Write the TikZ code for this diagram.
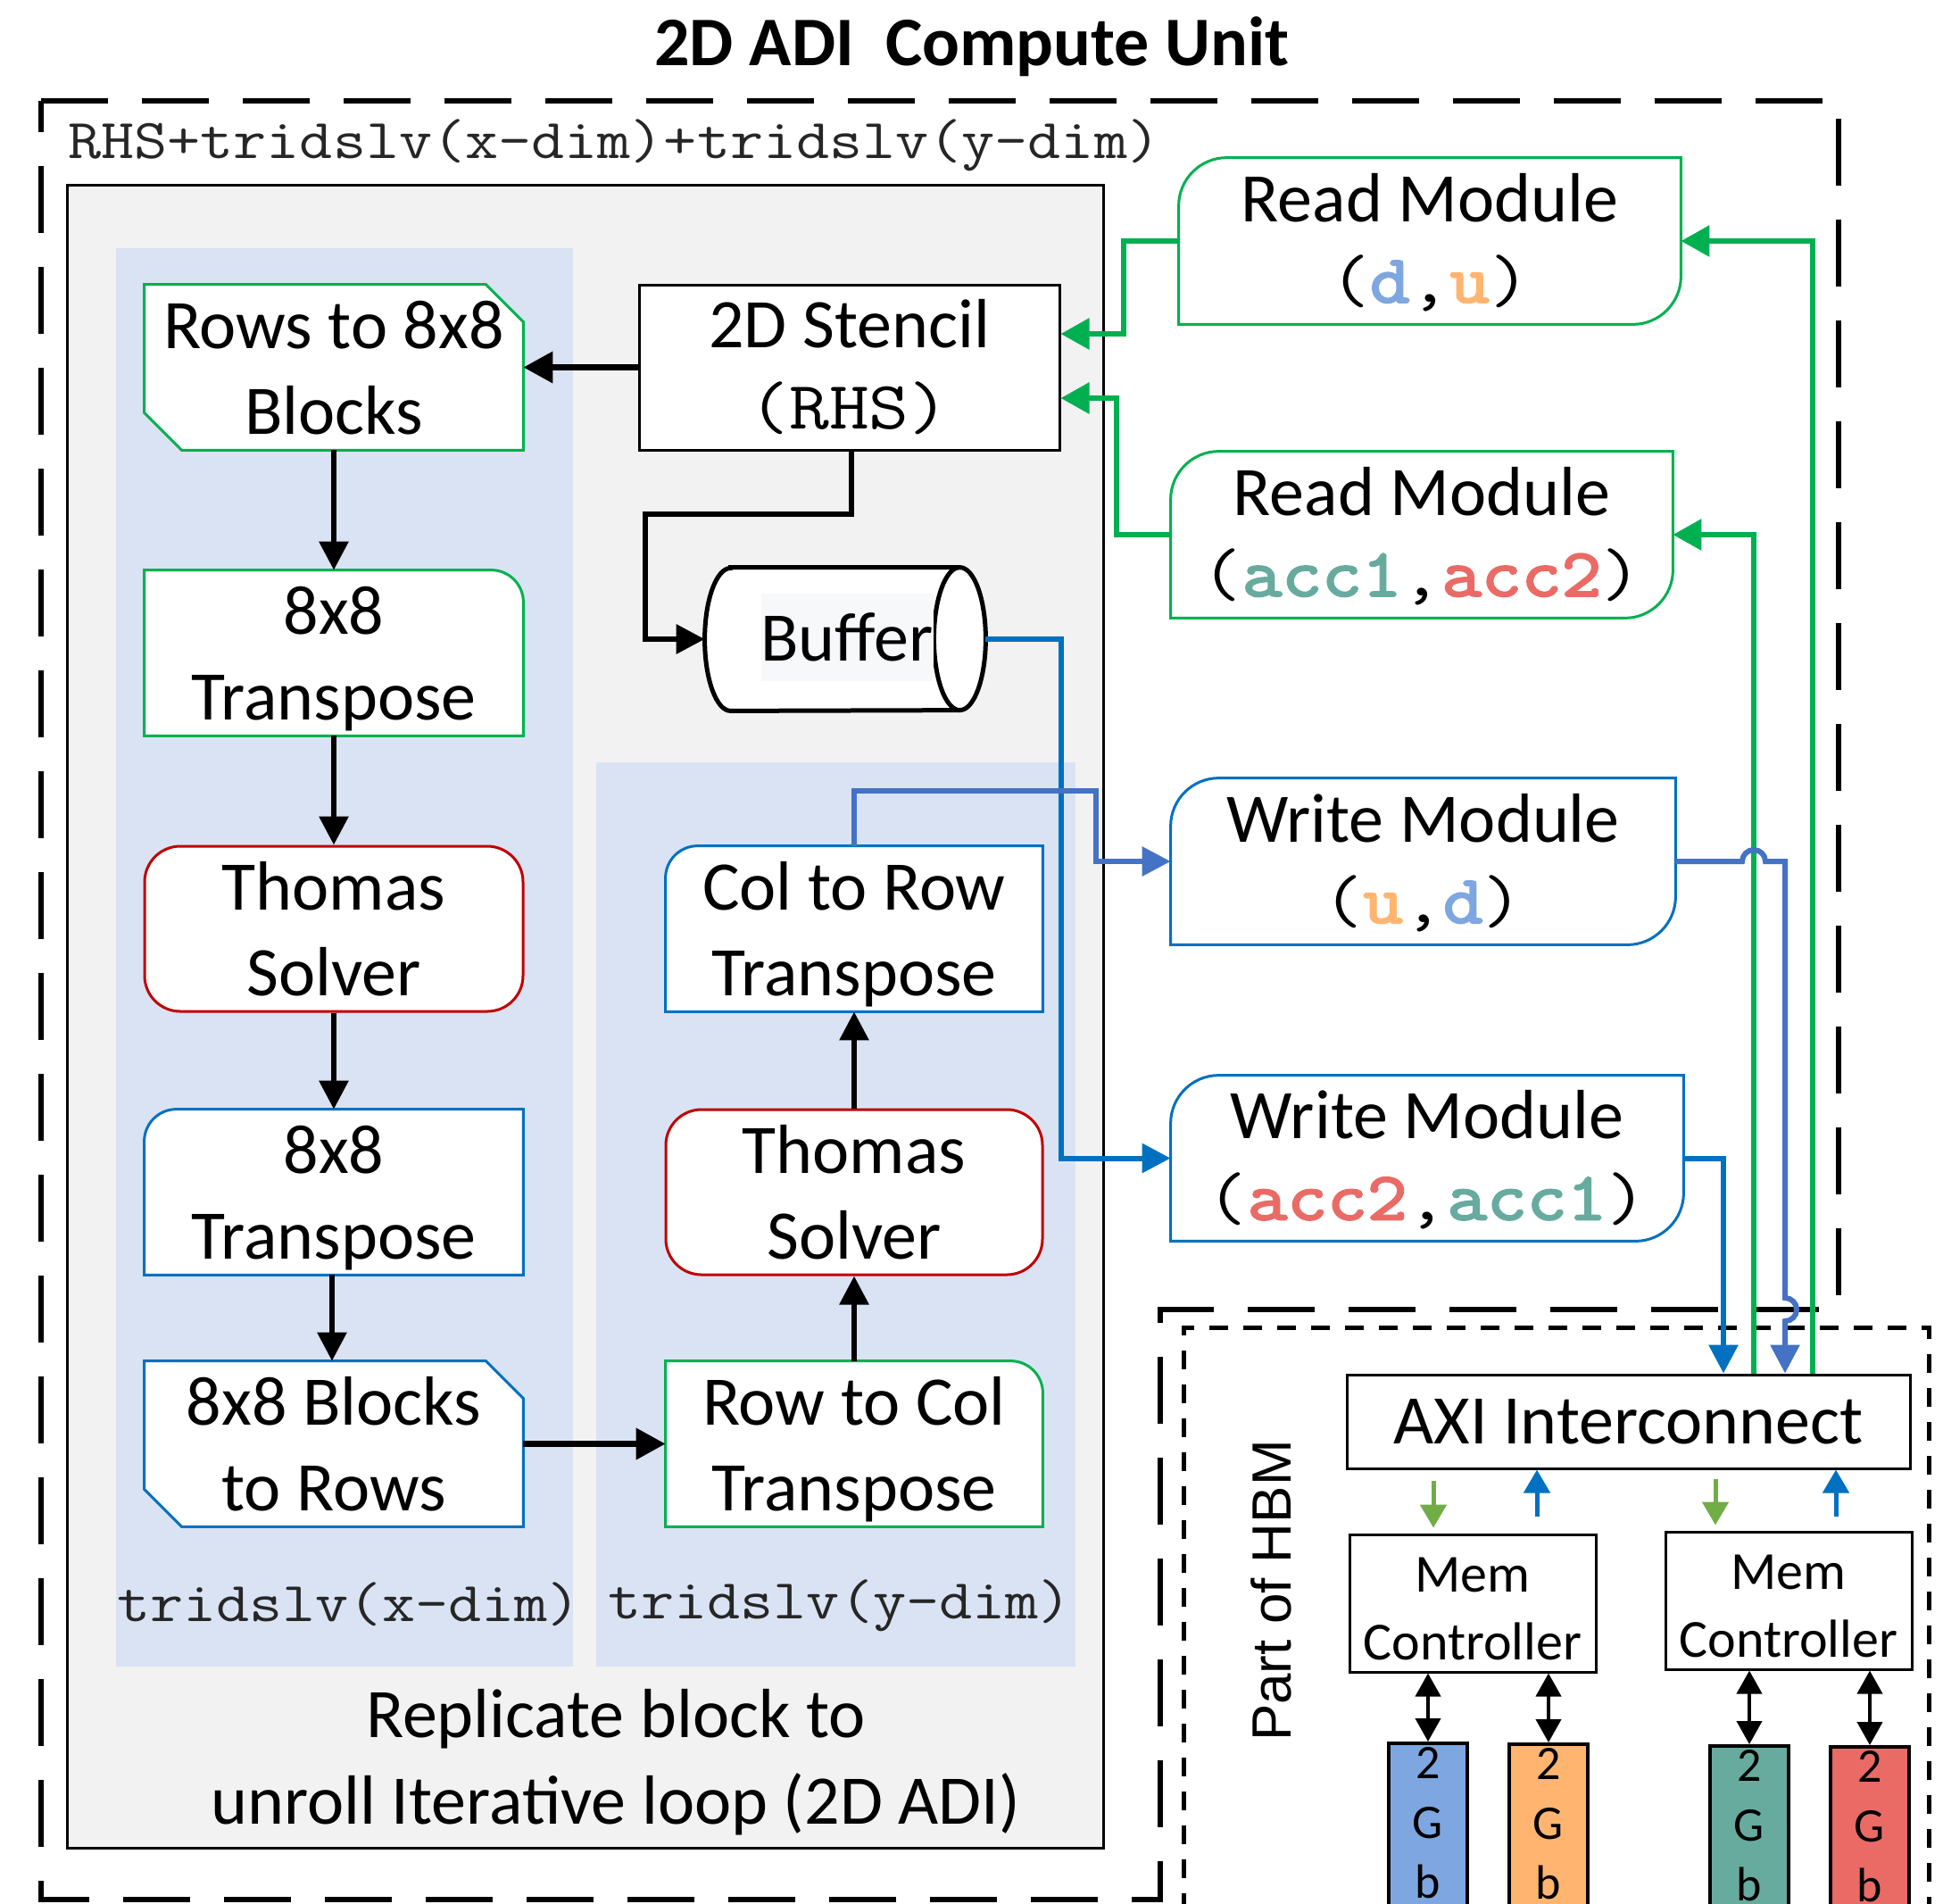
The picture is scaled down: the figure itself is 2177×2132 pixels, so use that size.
\documentclass[tikz,border=0pt]{standalone}
\usepackage{fontspec}
\setmainfont{Carlito}
\newfontfamily\cour{Latin Modern Mono}[FakeStretch=1.143,BoldFont={Latin Modern Mono},BoldFeatures={FakeBold=3}]
\newfontfamily\hbmfont{Liberation Sans}
\usetikzlibrary{arrows.meta,calc}

\definecolor{grn}{HTML}{00B050}
\definecolor{blu}{HTML}{0070C0}
\definecolor{bluB}{HTML}{4472C4}
\definecolor{rd}{HTML}{C00000}
\definecolor{panel}{HTML}{F2F2F2}
\definecolor{lane}{HTML}{DAE3F3}
\definecolor{lgrn}{HTML}{70AD47}
\definecolor{cd}{HTML}{7EA6E0}
\definecolor{cu}{HTML}{FFB570}
\definecolor{ca}{HTML}{67AB9F}
\definecolor{cb}{HTML}{EA6B66}
\definecolor{labelgray}{HTML}{262626}
\definecolor{bufbg}{HTML}{F7F8FA}

\pgfdeclarelayer{back}
\pgfdeclarelayer{shapes}
\pgfsetlayers{back,shapes,main}

% struts that fix the baselines of the box texts
\newcommand\bstrut{\rule[-9pt]{0pt}{44.5pt}}
\newcommand\mstrut{\rule[-9pt]{0pt}{41.5pt}}
\newcommand\cstrut{\rule[-6pt]{0pt}{37pt}}
\newcommand\gstrut{\rule[-4pt]{0pt}{24.5pt}}
\newcommand\mtxt[1]{{\cour\fontsize{38pt}{45.25pt}\selectfont #1}}
\newcommand\vname[2]{\textbf{\textcolor{#1}{#2}}}

% outlines of the special box shapes
\newcommand\snipout[2]{%
  \filldraw[fill=white,draw=#2,line width=1.5pt]
    (#1.north west) -- ([xshift=-21pt]#1.north east) -- ([yshift=-21pt]#1.north east)
    -- (#1.south east) -- ([xshift=21pt]#1.south west) -- ([yshift=21pt]#1.south west) -- cycle;}
\newcommand\trout[3]{%
  \filldraw[fill=white,draw=#2,line width=1.5pt]
    (#1.south west) -- (#1.north west) -- ([xshift=-#3]#1.north east)
    arc[start angle=90,end angle=0,radius=#3] -- (#1.south east) -- cycle;}
\newcommand\tlout[3]{%
  \filldraw[fill=white,draw=#2,line width=1.5pt]
    (#1.south east) -- (#1.south west) -- ([yshift=-#3]#1.north west)
    arc[start angle=180,end angle=90,radius=#3] -- (#1.north east) -- cycle;}
\newcommand\modout[2]{%
  \filldraw[fill=white,draw=#2,line width=1.5pt]
    ([yshift=-27pt]#1.north west) arc[start angle=180,end angle=90,radius=27pt]
    -- (#1.north east) -- ([yshift=27pt]#1.south east)
    arc[start angle=0,end angle=-90,radius=27pt] -- (#1.south west) -- cycle;}

\begin{document}
\begin{tikzpicture}[x=0.5pt,y=-0.5pt,
  box/.style={minimum width=212pt,minimum height=92.5pt,inner sep=0pt,align=center,
    font=\fontsize{39pt}{48pt}\selectfont},
  modbox/.style={minimum height=93pt,inner sep=0pt,align=center,
    font=\fontsize{39pt}{45.25pt}\selectfont},
  plainbox/.style={draw,line width=1.5pt,fill=white,inner sep=0pt},
  solver/.style={box,draw=rd,line width=1.5pt,fill=white,rounded corners=20pt},
  flow/.style={line width=3pt,-{Triangle[length=16pt,width=16pt]}},
  flowbold/.style={line width=3.5pt,-{Triangle[length=16.5pt,width=17pt]}},
  rdlink/.style={draw=grn,line width=3pt,-{Triangle[length=16pt,width=17pt]}},
  wrlink/.style={line width=3pt,-{Triangle[length=16pt,width=16pt]}},
  hbmlink/.style={line width=2.5pt,-{Triangle[length=13pt,width=14.5pt]}},
  memlink/.style={line width=2pt,{Triangle[length=13pt,width=14pt]}-{Triangle[length=13pt,width=14pt]}},
  mlabel/.style={font=\cour\fontsize{31.5pt}{36pt}\selectfont,text=labelgray,inner sep=0pt,anchor=base west},
  longdash/.style={line width=3pt,dash pattern=on 37.5pt off 19pt},
  shortdash/.style={line width=2.5pt,dash pattern=on 10.5pt off 8.5pt},
]
\useasboundingbox (0,0) rectangle (2177,2132);
\clip (0,0) rectangle (2177,2132);

% title
\node[font=\bfseries\fontsize{39pt}{45pt}\selectfont,anchor=base,inner sep=0pt] (title) at (1089,73) {2D ADI\ \ Compute Unit};

% compute unit boundary, notched around the HBM
\draw[longdash] (46,113) -- (2060,113) -- (2060,1467) -- (1300,1467) -- (1300,2128) -- (46,2128) -- cycle;
\coordinate (notch) at (1300,1467);
\node[mlabel] (cuname) at (76,177) {RHS+tridslv(x-dim)+tridslv(y-dim)};

% replicated block and its two lanes
\begin{pgfonlayer}{back}
  \filldraw[fill=panel,line width=1.5pt] (75,207) rectangle (1236,2070);
  \fill[lane] (130,278) rectangle (642,1867);
  \fill[lane] (668,854) rectangle (1205,1867);
\end{pgfonlayer}

% x-dim lane
\node[box] (r2b) at (374,411.5) {\bstrut Rows to 8x8\\\bstrut Blocks};
\node[box] (tp1) at (374,731.5) {\bstrut 8x8\\\bstrut Transpose};
\node[solver] (ts1) at (374,1040.5) {\bstrut Thomas\\\bstrut Solver};
\node[box] (tp2) at (374,1335.5) {\bstrut 8x8\\\bstrut Transpose};
\node[box] (b2r) at (374,1617.5) {\bstrut 8x8 Blocks\\\bstrut to Rows};

% stencil, buffer and y-dim lane
\node[box,plainbox,minimum width=235.5pt,font=\fontsize{39pt}{45.25pt}\selectfont] (st) at (951.5,411.5) {\mstrut 2D Stencil\\\mstrut\mtxt{(RHS)}};
\node[minimum width=157pt,minimum height=80pt,inner sep=0pt] (buf) at (947,716) {};
\node[box,minimum width=211pt] (c2r) at (957,1040.5) {\bstrut Col to Row\\\bstrut Transpose};
\node[solver,minimum width=211pt] (ts2) at (957,1335.5) {\bstrut Thomas\\\bstrut Solver};
\node[box,minimum width=211pt] (r2c) at (957,1617.5) {\bstrut Row to Col\\\bstrut Transpose};

% memory modules
\node[modbox,minimum width=281pt] (rm1) at (1602,270) {\mstrut Read Module\\\mstrut\mtxt{(\vname{cd}{d},\vname{cu}{u})}};
\node[modbox,minimum width=281pt] (rm2) at (1593,599) {\mstrut Read Module\\\mstrut\mtxt{(\vname{ca}{acc1},\vname{cb}{acc2})}};
\node[modbox,minimum width=282.5pt] (wm1) at (1594.5,965) {\mstrut Write Module\\\mstrut\mtxt{(\vname{cu}{u},\vname{cd}{d})}};
\node[modbox,minimum width=287pt,minimum height=92.5pt] (wm2) at (1599,1297.5) {\mstrut Write Module\\\mstrut\mtxt{(\vname{cb}{acc2},\vname{ca}{acc1})}};

\begin{pgfonlayer}{shapes}
  \snipout{r2b}{grn}
  \trout{tp1}{grn}{18pt}
  \tlout{tp2}{blu}{18pt}
  \snipout{b2r}{blu}
  \tlout{c2r}{blu}{18pt}
  \trout{r2c}{grn}{18pt}
  \modout{rm1}{grn}
  \modout{rm2}{grn}
  \modout{wm1}{blu}
  \modout{wm2}{blu}
  % buffer cylinder
  \filldraw[fill=white,line width=2.5pt]
    ([xshift=14.5pt]buf.north west) -- ([xshift=-14.5pt]buf.north east)
    arc[start angle=90,end angle=-90,x radius=14.5pt,y radius=40pt]
    -- ([xshift=14.5pt]buf.south west)
    arc[start angle=270,end angle=90,x radius=14.5pt,y radius=40pt] -- cycle;
  \draw[line width=2.5pt] ([xshift=-14.5pt]buf.north east)
    arc[start angle=90,end angle=270,x radius=14.5pt,y radius=40pt];
\end{pgfonlayer}
\node[fill=bufbg,inner sep=0pt,text height=37.5pt,text depth=11.5pt,anchor=base,
  font=\fontsize{39pt}{45pt}\selectfont] (buftxt) at (949,740) {Buffer};

% lane labels and replication note
\node[mlabel] (xlbl) at (131,1816) {tridslv(x-dim)};
\node[mlabel] (ylbl) at (681,1813) {tridslv(y-dim)};
\node[align=center,inner sep=0pt,font=\fontsize{39pt}{48.5pt}\selectfont] (rep) at (690,1968)
  {\bstrut Replicate block to\\\bstrut unroll Iterative loop (2D ADI)};

% HBM part
\draw[shortdash] (1326,2180) -- (1326,1487) -- (2161,1487) -- (2161,2180);
\node[rotate=90,anchor=base,inner sep=0pt,font=\hbmfont\fontsize{31pt}{36pt}\selectfont] (hbm) at (1446,1782) {Part of HBM};
\node[plainbox,minimum width=315.5pt,minimum height=52.5pt,font=\fontsize{39pt}{45pt}\selectfont] (axi) at (1824.5,1592.5) {\rule[-4pt]{0pt}{32.5pt}AXI Interconnect};
\node[plainbox,minimum width=138pt,minimum height=77pt,align=center,font=\fontsize{30pt}{38pt}\selectfont] (mc1) at (1650,1796) {\cstrut Mem\\\cstrut Controller};
\node[plainbox,minimum width=138pt,minimum height=77pt,align=center,font=\fontsize{30pt}{38pt}\selectfont] (mc2) at (2004,1793) {\cstrut Mem\\\cstrut Controller};
\foreach \n/\x/\y/\c in {b1/1600/1951/cd, b2/1735/1952/cu, b3/1960/1954/ca, b4/2095/1955/cb}{
  \node[draw,line width=2pt,fill=\c,minimum width=44pt,minimum height=100pt,anchor=north,inner sep=0pt] (\n) at (\x,\y) {};
  \node[anchor=north,inner sep=0pt,align=center,font=\fontsize{27pt}{33.5pt}\selectfont] (txt\n) at (\n.north) {\gstrut 2\\\gstrut G\\\gstrut b};
}

% data flow inside the block
\draw[flowbold] (st.west) -- (r2b.east);
\draw[flow] (r2b.south) -- (tp1.north);
\draw[flow] (tp1.south) -- (ts1.north);
\draw[flow] (ts1.south) -- (tp2.north);
\draw[flow] ([xshift=-1pt]tp2.south) -- ([xshift=-1pt]b2r.north);
\draw[flowbold] (b2r.east) -- (r2c.west);
\draw[flow] (r2c.north) -- (ts2.south);
\draw[flow] (ts2.north) -- (c2r.south);
\coordinate (k1) at (723,576);
\draw[line width=3.25pt,-{Triangle[length=16pt,width=16pt]}] ([xshift=1.25pt]st.south) |- (k1) |- (buf.west);

% reads
\draw[rdlink] (rm1.west) -- ++(-62,0) |- ([yshift=18.75pt]st.east);
\draw[rdlink] (rm2.west) -- ++(-61,0) |- ([yshift=-17.25pt]st.east);
\coordinate (gx1) at ([xshift=103.25pt]axi.north);
\coordinate (gx2) at ([xshift=70.25pt]axi.north);
\draw[rdlink] (gx1) |- (rm1.east);
\draw[rdlink] (gx2) |- (rm2.east);

% writes
\draw[wrlink,blu] (buf.east) -- (buf.east -| st.east) |- (wm2.west);
\coordinate (j1) at (1228,886);
\draw[wrlink,bluB] (c2r.north) |- (j1) |- (wm1.west);
\coordinate (wa) at ([xshift=87.75pt]axi.north);
\draw[wrlink,bluB] (wm1.east) -- ($(wm1.east -| gx2)+(-13,0)$)
  arc[start angle=180,end angle=0,radius=6.5pt] -- (wm1.east -| wa)
  -- ($(wa |- notch)+(0,-13)$) arc[start angle=90,end angle=-90,radius=6.5pt] -- (wa);
\draw[wrlink,blu] (wm2.east) -| ([xshift=53.25pt]axi.north);

% interconnect to memory controllers
\coordinate (g1) at ([xshift=-22pt]mc1.north);
\coordinate (u1) at ([xshift=36pt]mc1.north);
\coordinate (g2) at ([xshift=-41pt]mc2.north);
\coordinate (u2) at ([xshift=26.5pt]mc2.north);
\draw[hbmlink,lgrn,shorten <=6pt,shorten >=3pt] (axi.south -| g1) -- (g1);
\draw[hbmlink,blu,shorten <=9.5pt] (u1) -- (axi.south -| u1);
\draw[hbmlink,lgrn,shorten <=5pt,shorten >=3pt] (axi.south -| g2) -- (g2);
\draw[hbmlink,blu,shorten <=8pt] (u2) -- (axi.south -| u2);

% controllers to memory banks
\draw[memlink] (b1.north |- mc1.south) -- (b1.north);
\draw[memlink] (b2.north |- mc1.south) -- (b2.north);
\draw[memlink] (b3.north |- mc2.south) -- (b3.north);
\draw[memlink] (b4.north |- mc2.south) -- (b4.north);
\end{tikzpicture}
\end{document}
